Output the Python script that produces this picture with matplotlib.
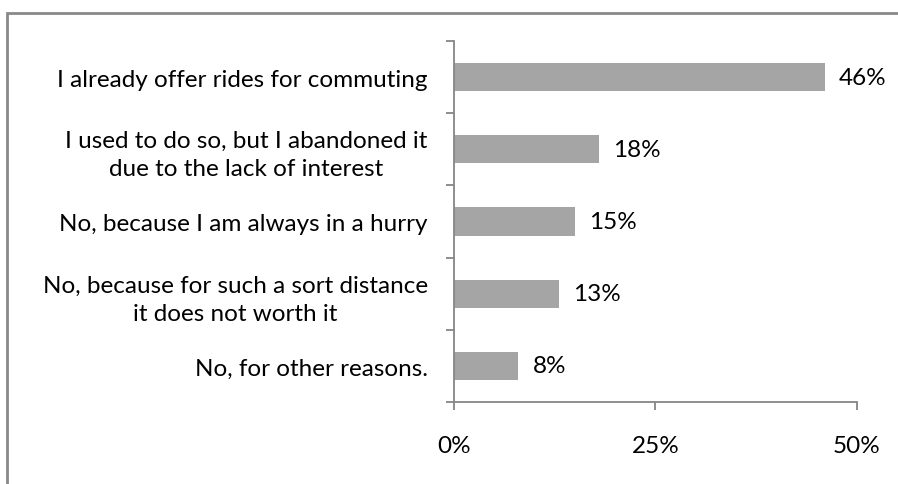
import matplotlib
matplotlib.use('Agg')
import matplotlib.pyplot as plt
from matplotlib.patches import Rectangle

plt.rcParams['font.family'] = ['Lato', 'DejaVu Sans']

# survey answers, top to bottom
answers = [
    "I already offer rides for commuting",
    "I used to do so, but I abandoned it\ndue to the lack of interest",
    "No, because I am always in a hurry",
    "No, because for such a sort distance\nit does not worth it",
    "No, for other reasons.",
]
shares = [46, 18, 15, 13, 8]          # percent
x_ticks = [0, 25, 50]
x_tick_labels = ['0%', '25%', '50%']

AXIS_GREY = '#868686'
BAR_GREY = '#A5A5A5'
FS = 17.5

fig = plt.figure(figsize=(8.98, 4.85), dpi=100)
ax = fig.add_axes([0.5056, 0.169, 0.4487, 0.7445])

pos = list(range(len(answers)))[::-1]
bars = ax.barh(pos, shares, height=0.39, color=BAR_GREY, edgecolor='none')

for b, v in zip(bars, shares):
    ax.annotate(f'{v}%', (b.get_width(), b.get_y() + b.get_height() / 2),
                xytext=(10, 0), textcoords='offset points',
                ha='left', va='center', fontsize=FS, color='black')

ax.set_xlim(0, 50)
ax.set_ylim(-0.5, len(answers) - 0.5)
ax.set_xticks(x_ticks)
ax.set_xticklabels(x_tick_labels, fontsize=FS)
ax.set_yticks(pos)
ax.set_yticklabels(answers, fontsize=FS, ha='right', multialignment='center',
                   linespacing=1.4)

# tick marks sit on the category boundaries, labels in the middle
ax.set_yticks([p - 0.5 for p in range(len(answers) + 1)], minor=True)
ax.tick_params(axis='y', which='major', length=0, pad=19)
ax.tick_params(axis='y', which='minor', length=6, width=1.3, color=AXIS_GREY, direction='out')
ax.tick_params(axis='x', length=6, width=1.3, color=AXIS_GREY, direction='out', pad=18)

for side in ('top', 'right'):
    ax.spines[side].set_visible(False)
for side in ('left', 'bottom'):
    ax.spines[side].set_color(AXIS_GREY)
    ax.spines[side].set_linewidth(1.3)

# chart area frame (runs off the right and bottom edges)
top = 1 - 14 / 485
fig.add_artist(Rectangle((7 / 898, -0.2), 1.2, top + 0.2,
                         transform=fig.transFigure, fill=False,
                         edgecolor='#898989', linewidth=2))

fig.savefig('out.png', dpi=100, facecolor='white')
